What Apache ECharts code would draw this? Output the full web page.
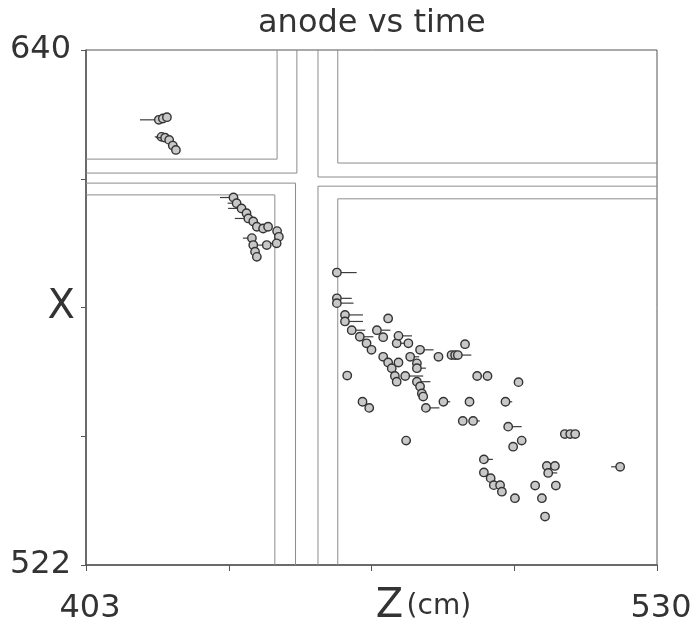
<!DOCTYPE html>
<html>
<head>
<meta charset="utf-8">
<script src="https://cdn.jsdelivr.net/npm/echarts@6/dist/echarts.min.js"></script>
<style>
  html, body { margin: 0; padding: 0; background: #fff; }
  #chart { width: 693px; height: 631px; }
</style>
</head>
<body>
<div id="chart"></div>
<script>
// axis ticks / labels
const zTicks = [403, 434.75, 466.5, 498.25, 530]
const zLabels = [403, 530]
const xTicks = [522, 551.5, 581, 610.5, 640]
const xLabels = [522, 640]

// detector boundaries (z, x)
const tlInner = [[403, 615.0], [445.5, 615.0], [445.5, 640]]
const tlOuter = [[403, 611.8], [449.9, 611.8], [449.9, 640]]
const blOuter = [[403, 609.5], [449.6, 609.5], [449.6, 522]]
const blInner = [[403, 606.8], [445.0, 606.8], [445.0, 522]]
const trOuter = [[454.6, 640], [454.6, 610.9], [530, 610.9]]
const trInner = [[459.0, 640], [459.0, 614.1], [530, 614.1]]
const brOuter = [[454.6, 522], [454.6, 608.8], [530, 608.8]]
const brInner = [[459.0, 522], [459.0, 605.9], [530, 605.9]]

// hits: [z, x, tail length in z]
const upperHits = [
  [419.2, 624.0, -4.2], [420.1, 624.3, 0], [421.0, 624.6, 0],
  [419.8, 620.1, -1.5], [420.6, 619.9, -2], [421.5, 619.4, 0],
  [422.3, 618.1, 0], [423.0, 617.1, 0]
]
const middleHits = [
  [435.8, 606.2, -3], [436.5, 604.9, -2], [437.6, 603.7, -3],
  [438.7, 602.6, 0], [439.1, 601.4, -3], [440.2, 600.7, 0],
  [441.0, 599.5, 0], [442.4, 599.1, 0], [443.5, 599.5, 0],
  [445.5, 598.5, 0], [445.9, 597.2, 0], [445.4, 595.7, -2],
  [439.9, 596.9, -2], [440.2, 595.3, 0], [440.6, 593.8, 0],
  [441.0, 592.6, 0], [443.2, 595.3, -2]
]
const lowerHits = [
  [458.8, 589.0, 4.4], [458.8, 583.1, 3.3], [458.8, 582.0, 3.7],
  [460.6, 579.3, 4], [460.6, 577.8, 4], [470.2, 578.5, 0],
  [462.1, 575.8, 3], [463.9, 574.3, 3], [465.4, 572.8, 0],
  [466.5, 571.3, 0], [467.7, 575.8, 3], [469.1, 574.2, 0],
  [472.1, 572.8, 2], [474.7, 572.8, 0], [472.5, 574.5, 3],
  [477.3, 571.3, 3], [481.4, 569.7, 0], [484.3, 570.1, 0],
  [485.1, 570.1, 0], [485.7, 570.1, 3], [487.3, 572.6, 0],
  [469.1, 569.7, 0], [470.2, 568.4, 0], [472.5, 568.4, 0],
  [475.1, 569.7, 2], [476.6, 568.2, 0], [476.6, 567.1, 2],
  [471.0, 567.1, 0], [471.7, 565.3, 0], [474.0, 565.3, 4],
  [472.1, 564.0, 0], [476.6, 564.0, 3], [477.3, 562.9, 0],
  [477.7, 561.3, 0], [478.0, 560.6, 0], [461.1, 565.4, 0],
  [464.5, 559.4, 0], [466.0, 558.0, 0], [478.6, 558.0, 3],
  [482.5, 559.4, 1.5], [488.3, 559.4, 0], [490.0, 565.3, 0],
  [492.3, 565.3, 0], [499.2, 563.9, 0], [486.8, 555.0, 0],
  [489.1, 555.0, 1.5], [496.3, 559.4, 1.5], [496.9, 553.7, 3],
  [474.2, 550.5, 1], [499.9, 550.5, 0], [498.0, 549.1, 0],
  [509.5, 552.0, 0], [510.7, 552.0, 0], [511.8, 552.0, 0],
  [491.5, 546.2, 2], [491.5, 543.2, 0], [493.0, 541.9, 0],
  [493.7, 540.3, 0], [495.1, 540.3, 0], [495.5, 538.8, 0],
  [505.5, 544.7, 0], [507.3, 544.7, 0], [505.8, 543.1, 2],
  [521.8, 544.5, -2], [502.9, 540.2, 0], [507.5, 540.2, 0],
  [498.4, 537.3, 1], [504.4, 537.3, 0], [505.1, 533.1, 0]
]

const chart = echarts.init(document.getElementById('chart'))

const boundaryColor = '#8c8c8c'
const boundaries = [tlInner, tlOuter, blOuter, blInner, trOuter, trInner, brOuter, brInner]

function renderHit(params, api) {
  const z = api.value(0)
  const x = api.value(1)
  const tail = api.value(2)
  const c = api.coord([z, x])
  const children = []
  if (tail) {
    const e = api.coord([z + tail, x])
    children.push({
      type: 'line',
      shape: { x1: c[0], y1: c[1], x2: e[0], y2: e[1] },
      style: { stroke: '#3d3d3d', lineWidth: 1.2 }
    })
  }
  children.push({
    type: 'circle',
    shape: { cx: c[0], cy: c[1], r: 4.2 },
    style: { fill: '#c8c8c8', stroke: '#333', lineWidth: 1.4 }
  })
  return { type: 'group', children }
}

const hitSeries = [upperHits, middleHits, lowerHits].map(d => ({
  type: 'custom',
  data: d,
  dimensions: ['z', 'x', 'tail'],
  encode: { x: 0, y: 1 },
  renderItem: renderHit,
  silent: true,
  z: 5
}))

const lineSeries = boundaries.map(seg => ({
  type: 'line',
  data: seg,
  showSymbol: false,
  silent: true,
  animation: false,
  lineStyle: { color: boundaryColor, width: 1 },
  z: 2
}))

const textStyle = { fontFamily: 'DejaVu Sans', color: '#333' }

chart.setOption({
  animation: false,
  backgroundColor: '#fff',
  title: {
    text: 'anode vs time',
    left: 253,
    top: 3,
    textStyle: { fontFamily: 'DejaVu Sans', fontSize: 32, fontWeight: 'normal', color: '#333' }
  },
  grid: {
    left: 86,
    right: 36,
    top: 50,
    bottom: 66,
    containLabel: false,
    outerBoundsMode: 'none',
    show: true,
    borderColor: '#555',
    borderWidth: 1
  },
  xAxis: {
    type: 'value',
    min: 403,
    max: 530,
    splitLine: { show: false },
    axisLine: { lineStyle: { color: '#555', width: 1.5 } },
    axisTick: { customValues: zTicks, length: 6, lineStyle: { color: '#555' } },
    axisLabel: { customValues: zLabels, margin: 28, fontSize: 32, padding: [0, 0, 0, 8], ...textStyle },
    name: '{z|Z} {u|(cm)}',
    nameLocation: 'middle',
    nameGap: 22,
    nameMoveOverlap: false,
    nameTextStyle: {
      padding: [0, 0, 0, 104],
      rich: {
        z: { fontSize: 40, fontFamily: 'DejaVu Sans', color: '#333' },
        u: { fontSize: 28, fontFamily: 'DejaVu Sans', color: '#333' }
      }
    }
  },
  yAxis: {
    type: 'value',
    min: 522,
    max: 640,
    splitLine: { show: false },
    axisLine: { show: true, lineStyle: { color: '#555', width: 1.5 } },
    axisTick: { show: true, customValues: xTicks, length: 5, lineStyle: { color: '#555' } },
    axisLabel: { customValues: xLabels, margin: 15, fontSize: 32, ...textStyle },
    name: 'X',
    nameLocation: 'middle',
    nameRotate: 0,
    nameGap: 11,
    nameMoveOverlap: false,
    nameTextStyle: { fontSize: 40, ...textStyle }
  },
  series: [...lineSeries, ...hitSeries]
})
</script>
</body>
</html>
